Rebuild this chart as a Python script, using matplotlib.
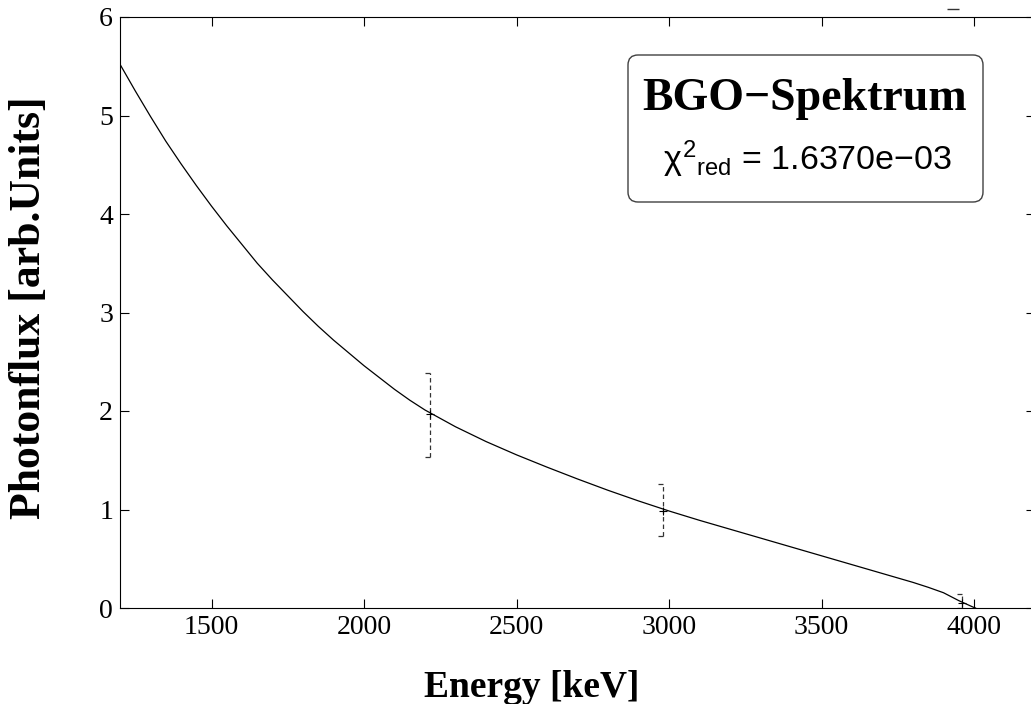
"""BGO spectrum: photon flux vs energy with fitted curve and error bars."""

import matplotlib
matplotlib.use("Agg")
import matplotlib.pyplot as plt
from matplotlib.patches import FancyBboxPatch
from matplotlib.path import Path
from matplotlib.transforms import IdentityTransform

# fitted curve
curve_energy = [1200, 1250, 1300, 1350, 1400, 1450, 1500, 1550, 1600, 1650,
                 1700, 1750, 1800, 1850, 1900, 1950, 2000, 2050, 2100, 2150,
                 2200, 2300, 2400, 2500, 2600, 2700, 2800, 2900, 3000, 3100,
                 3200, 3300, 3400, 3500, 3600, 3700, 3800, 3850, 3900, 3950,
                 4000, 4005]
curve_flux = [5.52, 5.25, 4.99, 4.74, 4.51, 4.29, 4.08, 3.88, 3.69, 3.50,
              3.33, 3.17, 3.01, 2.86, 2.72, 2.59, 2.46, 2.34, 2.22, 2.11,
              2.01, 1.84, 1.69, 1.555, 1.43, 1.31, 1.195, 1.087, 0.985, 0.89,
              0.80, 0.71, 0.62, 0.53, 0.44, 0.35, 0.26, 0.21, 0.155, 0.075,
              0.005, 0.0]

# measured points with errors
point_energy = [2216, 2980, 3961]
point_flux = [1.97, 0.985, 0.05]
err_low = [0.44, 0.255, 0.05]
err_high = [0.42, 0.275, 0.09]

# lone cap drawn just above the frame in the original
stray_energy = [3932]
stray_flux = [6.08]

x_ticks = [1500, 2000, 2500, 3000, 3500, 4000]
y_ticks = [0, 1, 2, 3, 4, 5, 6]

title_text = "BGO\u2212Spektrum"
chi_text = r"$\chi^{2}{}_{\mathrm{red}}$ = 1.6370e" + "\u221203"

plt.rcParams["font.family"] = ["Liberation Serif", "DejaVu Serif"]
plt.rcParams["mathtext.fontset"] = "custom"
plt.rcParams["mathtext.rm"] = "Liberation Sans"
plt.rcParams["mathtext.it"] = "Liberation Sans"
plt.rcParams["mathtext.bf"] = "Liberation Sans:bold"
plt.rcParams["lines.scale_dashes"] = False

W, H = 1031, 704
fig = plt.figure(figsize=(W / 100, H / 100), dpi=100)
ax = fig.add_axes([120 / W, 96 / H, 915 / W, 591 / H])

ax.plot(curve_energy, curve_flux, color="black", lw=0.9)

_, _, bars = ax.errorbar(point_energy, point_flux, yerr=[err_low, err_high],
                         fmt="+", color="black", ms=6, mew=0.8,
                         elinewidth=0.9, capsize=0, ecolor="#333333")
bars[0].set_linestyle((0, (3.2, 2.2)))

left_cap = Path([(-1, 0), (0, 0)], [Path.MOVETO, Path.LINETO])
tops = [f + h for f, h in zip(point_flux, err_high)]
bottoms = [f - l for f, l in zip(point_flux, err_low)]
ax.plot(point_energy, tops, ls="none", marker=left_cap, ms=7, mew=0.9,
        color="#333333")
ax.plot(point_energy, bottoms, ls="none", marker=left_cap, ms=7, mew=0.9,
        color="#333333")
ax.plot(stray_energy, stray_flux, ls="none", marker="_", ms=9, mew=1.0,
        color="#333333", clip_on=False)

ax.set_xlim(1200, 4200)
ax.set_ylim(0, 6)
ax.set_xticks(x_ticks)
ax.set_yticks(y_ticks)
ax.tick_params(direction="in", length=6.5, width=0.8, top=True, right=True,
               labelsize=20, pad=5)
for s in ax.spines.values():
    s.set_linewidth(0.8)

fig.text(532 / W, 7 / H, "Energy [keV]", ha="center", va="baseline",
         fontsize=27, fontweight="bold")
fig.text(29 / W, 1 - 308 / H, "Photonflux [arb.Units]", ha="center",
         va="center", rotation=90, fontsize=31.5, fontweight="bold")

box = FancyBboxPatch((628, H - 202), 355, 147,
                     boxstyle="round,pad=0,rounding_size=10",
                     transform=IdentityTransform(), facecolor="white",
                     edgecolor="#404040", lw=1.0)
fig.add_artist(box)
fig.text(805 / W, 1 - 110 / H, title_text, ha="center", va="baseline",
         fontsize=33, fontweight="bold")
fig.text(807 / W, 1 - 170 / H, chi_text, ha="center", va="baseline",
         fontsize=24.5, family=["Liberation Sans", "DejaVu Sans"])

fig.savefig("out.png", dpi=100)
